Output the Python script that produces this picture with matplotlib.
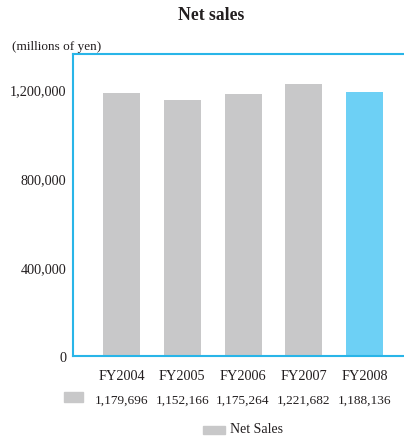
import matplotlib
matplotlib.use("Agg")
import matplotlib.pyplot as plt
from matplotlib.patches import Rectangle

years = ["FY2004", "FY2005", "FY2006", "FY2007", "FY2008"]
net_sales = [1179696, 1152166, 1175264, 1221682, 1188136]
yticks = [0, 400000, 800000, 1200000]
ytick_labels = ["0", "400,000", "800,000", "1,200,000"]

GRAY = "#c8c8c9"
BLUE = "#6dd0f5"
SPINE = "#29b5e8"
TEXT = "#231f20"

plt.rcParams["font.family"] = ["Liberation Serif", "DejaVu Serif"]

W, H = 404, 439
fig = plt.figure(figsize=(W / 100, H / 100), dpi=100)
ax = fig.add_axes([73 / W, 1 - 357 / H, (W - 73) / W, (357 - 55) / H])

colors = [GRAY] * (len(years) - 1) + [BLUE]
x = list(range(len(years)))
ax.bar(x, net_sales, width=0.61, color=colors, zorder=2)

ax.set_xlim(-0.8, 4.65)
ax.set_ylim(0, 1357000)
ax.set_yticks(yticks)
ax.set_yticklabels(ytick_labels, fontsize=10.3, color=TEXT)
ax.tick_params(axis="y", length=0, pad=5)
ax.set_xticks([])

for side in ("left", "top", "bottom"):
    ax.spines[side].set_color(SPINE)
    ax.spines[side].set_linewidth(1.5)
ax.spines["right"].set_visible(False)

# category labels and value row below the axis
trans = ax.get_xaxis_transform()
for i, (yr, v) in enumerate(zip(years, net_sales)):
    ax.text(i, -19.5 / 302, yr, transform=trans, ha="center", va="center",
            fontsize=10.3, color=TEXT)
    ax.text(i, -43.5 / 302, f"{v:,}", transform=trans, ha="center", va="center",
            fontsize=9.6, color=TEXT)

# swatch at the start of the value row
fig.patches.append(Rectangle((64 / W, 1 - 403 / H), 19 / W, 10 / H,
                             transform=fig.transFigure, color=GRAY))

# legend
fig.patches.append(Rectangle((203 / W, 1 - 435 / H), 22 / W, 8 / H,
                             transform=fig.transFigure, color=GRAY))
fig.text(230 / W, 1 - 430 / H, "Net Sales", ha="left", va="center",
         fontsize=10, color=TEXT)

fig.text(211 / W, 1 - 16 / H, "Net sales", ha="center", va="center",
         fontsize=12.7, fontweight="bold", color=TEXT)
fig.text(12 / W, 1 - 47 / H, "(millions of yen)", ha="left", va="center",
         fontsize=9.5, color=TEXT)

fig.savefig("out.png", dpi=100)
